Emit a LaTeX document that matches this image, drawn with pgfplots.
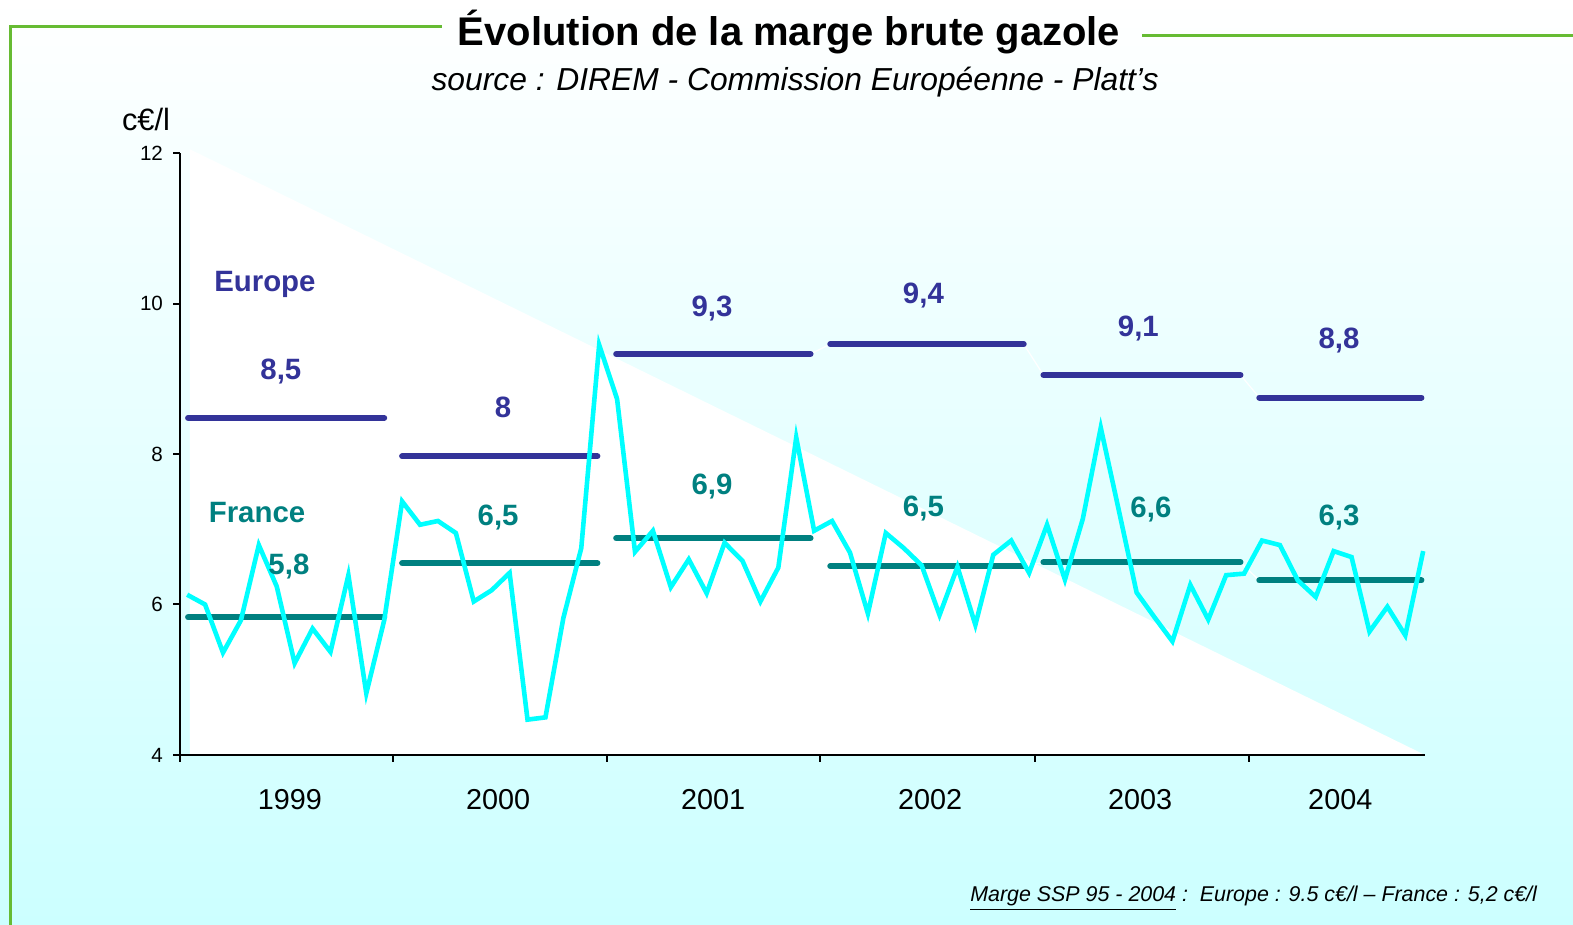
\documentclass[border=0pt]{standalone}
\usepackage{pgfplots}
\usepackage{pgfplotstable}
\pgfplotsset{compat=1.18}
\usepackage{fontspec}
\setmainfont{Liberation Sans}

\definecolor{eur}{RGB}{51,51,153}
\definecolor{fra}{RGB}{0,128,128}
\definecolor{mois}{RGB}{0,255,255}
\definecolor{fond}{RGB}{204,255,255}
\definecolor{vert}{RGB}{102,187,51}

% marge France, moyenne mensuelle (janv. 1999 = 0)
\pgfplotstableread{
m marge
0 6.13
1 6.00
2 5.36
3 5.79
4 6.79
5 6.24
6 5.22
7 5.68
8 5.37
9 6.39
10 4.82
11 5.79
12 7.37
13 7.06
14 7.11
15 6.95
16 6.04
17 6.19
18 6.42
19 4.47
20 4.50
21 5.82
22 6.75
23 9.45
24 8.73
25 6.70
26 6.98
27 6.23
28 6.60
29 6.15
30 6.82
31 6.58
32 6.04
33 6.49
34 8.22
35 6.98
36 7.11
37 6.69
38 5.88
39 6.95
40 6.75
41 6.52
42 5.86
43 6.50
44 5.73
45 6.66
46 6.85
47 6.42
48 7.06
49 6.33
50 7.14
51 8.35
52 7.26
53 6.16
54 5.83
55 5.51
56 6.26
57 5.80
58 6.39
59 6.41
60 6.85
61 6.79
62 6.32
63 6.10
64 6.71
65 6.63
66 5.64
67 5.97
68 5.59
69 6.71
}\francemois

% moyennes annuelles
\pgfplotstableread{
m europe france
0.05 8.48 5.83
11.0 8.48 5.83
nan nan nan
12.0 7.97 6.55
22.9 7.97 6.55
nan nan nan
23.95 9.33 6.88
34.8 9.33 6.88
nan nan nan
35.9 9.46 6.51
46.7 9.46 6.51
nan nan nan
47.8 9.05 6.56
58.8 9.05 6.56
nan nan nan
59.85 8.75 6.32
68.9 8.75 6.32
}\annuel

\pgfplotstableread{
m europe france
0.05 8.48 5.83
11.0 8.48 5.83
12.0 7.97 6.55
22.9 7.97 6.55
23.95 9.33 6.88
34.8 9.33 6.88
35.9 9.46 6.51
46.7 9.46 6.51
47.8 9.05 6.56
58.8 9.05 6.56
59.85 8.75 6.32
68.9 8.75 6.32
}\liens

\begin{document}
\begin{tikzpicture}
\shade[top color=white, bottom color=fond] (0,0) rectangle (786.5pt,462.5pt);
\useasboundingbox (0,0) rectangle (786.5pt,462.5pt);

\draw[vert, line width=1.5pt] (5pt,0) -- (5pt,449.3pt) -- (221pt,449.3pt);
\draw[vert, line width=1.5pt] (571pt,444.6pt) -- (786.5pt,444.6pt);

\node[anchor=base, font=\bfseries\fontsize{20}{24}\selectfont] at (394.5pt,439.5pt)
  {Évolution de la marge brute gazole};
\node[anchor=base, font=\itshape\fontsize{15.9}{19}\selectfont] at (397.5pt,417pt)
  {source : DIREM - Commission Européenne - Platt’s};
\node[font=\fontsize{15.4}{18}\selectfont] at (73pt,402.5pt) {c€/l};
\node[anchor=base east, font=\itshape\fontsize{10.7}{13}\selectfont] at (772pt,11.5pt)
  {\underline{Marge SSP 95 - 2004} :\ \ Europe : 9.5 c€/l -- France : 5,2 c€/l};

\begin{axis}[
  at={(90pt,85pt)}, anchor=south west,
  scale only axis, width=622.5pt, height=301pt,
  xmin=-0.4, xmax=69.1, ymin=4, ymax=12,
  axis x line=bottom, axis y line=left,
  axis line style={-, line width=1pt, black},
  axis on top,
  clip=false,
  tick align=outside,
  major tick length=3.5pt, minor tick length=3.5pt,
  every tick/.style={black, line width=1pt},
  ytick={4,6,8,10,12},
  yticklabel style={font=\fontsize{10.3}{12}\selectfont, xshift=-1.5pt},
  xtick={5.74,17.36,29.36,41.48,53.2,64.37},
  xticklabels={1999,2000,2001,2002,2003,2004},
  major x tick style={draw=none},
  minor xtick={-0.4,11.49,23.44,35.33,47.34,59.29},
  xticklabel style={font=\fontsize{14.4}{17}\selectfont, anchor=center, yshift=-19pt},
  /pgf/number format/assume math mode=true,
  unbounded coords=jump,
]
\fill[white] (axis cs:0.15,12.05) -- (axis cs:69.1,4) -- (axis cs:0.15,4) -- cycle;

\addplot[white, line width=0.6pt] table[x=m, y=europe] {\liens};
\addplot[white, line width=0.6pt] table[x=m, y=france] {\liens};
\addplot[eur, line width=3pt, line cap=round] table[x=m, y=europe] {\annuel};
\addplot[fra, line width=3pt, line cap=round] table[x=m, y=france] {\annuel};
\addplot[mois, line width=2.3pt] table[x=m, y=marge] {\francemois};

\begin{scope}[every node/.style={font=\bfseries\fontsize{14.7}{17}\selectfont}]
\node[eur] at (axis cs:4.34,10.26) {Europe};
\node[fra] at (axis cs:3.9,7.22) {France};
\node[eur] at (axis cs:5.23,9.09) {8,5};
\node[eur] at (axis cs:17.64,8.62) {8};
\node[eur] at (axis cs:29.3,9.94) {9,3};
\node[eur] at (axis cs:41.1,10.10) {9,4};
\node[eur] at (axis cs:53.1,9.67) {9,1};
\node[eur] at (axis cs:64.3,9.51) {8,8};
\node[fra] at (axis cs:5.68,6.50) {5,8};
\node[fra] at (axis cs:17.36,7.15) {6,5};
\node[fra] at (axis cs:29.3,7.57) {6,9};
\node[fra] at (axis cs:41.1,7.28) {6,5};
\node[fra] at (axis cs:53.8,7.26) {6,6};
\node[fra] at (axis cs:64.3,7.15) {6,3};
\end{scope}
\end{axis}
\end{tikzpicture}
\end{document}
